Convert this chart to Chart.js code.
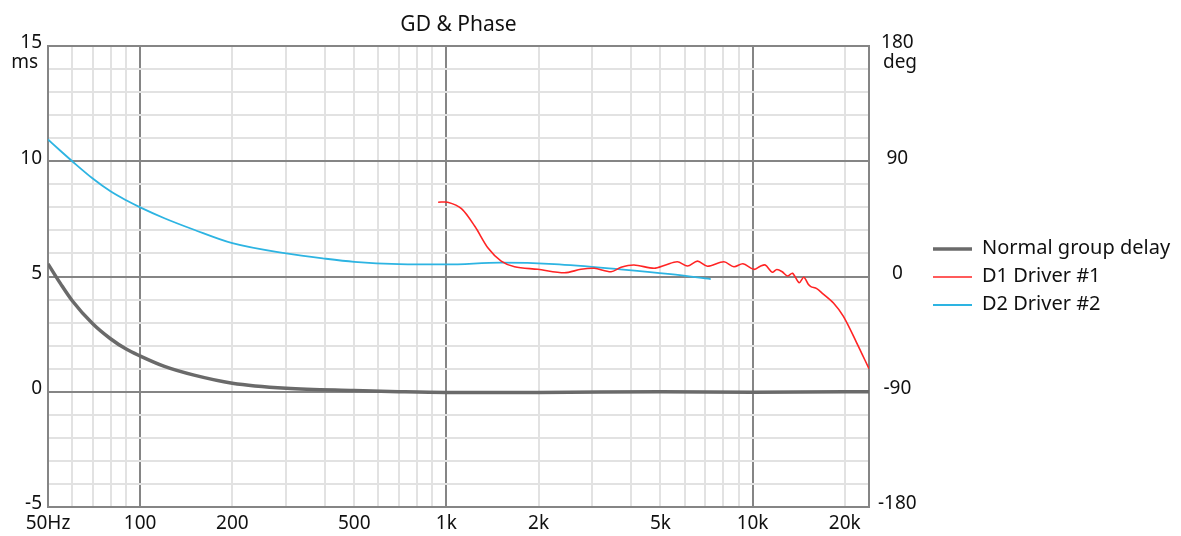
<!DOCTYPE html>
<html>
<head>
<meta charset="utf-8">
<title>GD & Phase</title>
<script src="https://cdn.jsdelivr.net/npm/chart.js@4"></script>
<style>
  html, body { margin: 0; padding: 0; background: #fff; }
  #wrap { width: 1181px; height: 536px; position: relative; }
</style>
</head>
<body>
<div id="wrap"><canvas id="gdChart"></canvas></div>
<script>
/* ================= DATA ================= */

// Normal group delay (ms, left axis)
const freqGray = [50, 55, 60, 70, 80, 90, 100, 120, 150, 200, 300, 500, 700, 1000, 2000, 5000, 10000, 20000, 24000];
const gdNormal = [5.55, 4.68, 3.95, 2.95, 2.3, 1.85, 1.55, 1.1, 0.72, 0.37, 0.15, 0.05, 0.0, -0.03, -0.03, 0.0, -0.02, 0.0, 0.0];

// D1 Driver #1 (deg, right axis)
const freqD1 = [940, 1010, 1120, 1240, 1370, 1510, 1670, 1990, 2430, 2750, 3040, 3450, 3720, 4100, 4770, 5200, 5680, 6130, 6610, 7120, 8060, 8690, 9300,
  10100, 10600, 11000, 11600, 12000, 12500, 13000, 13500, 14200, 14700, 15200, 15500, 16200, 16900, 18400, 19800, 21800, 24000];
const phaseD1 = [58, 58, 53, 39, 22, 12, 7.6, 5.6, 2.9, 5.6, 6.4, 3.7, 7.2, 9, 6.4, 9, 11.5, 8.2, 12, 8, 11.5, 7.6, 10,
  5.6, 8, 9, 3.3, 5.5, 3.7, 0.4, 2.5, -4.8, -0.6, -6, -7.9, -9.5, -13.1, -20.9, -31.2, -51, -72];

// D2 Driver #2 (deg, right axis)
const freqD2 = [50, 55, 60, 70, 80, 90, 100, 120, 150, 200, 300, 400, 500, 700, 1000, 1500, 2250, 3700, 5400, 7300];
const phaseD2 = [107, 98, 90, 76.5, 66.5, 59.5, 54, 45.5, 36.5, 26, 18, 14, 11.5, 9.7, 9.4, 10.8, 9.7, 5.6, 1.8, -2];

// axis ticks
const freqTicks = [50, 60, 70, 80, 90, 100, 200, 300, 400, 500, 600, 700, 800, 900,
  1000, 2000, 3000, 4000, 5000, 6000, 7000, 8000, 9000, 10000, 20000];
const freqLabels = { 50: "50Hz", 100: "100", 200: "200", 500: "500", 1000: "1k",
  2000: "2k", 5000: "5k", 10000: "10k", 20000: "20k" };
const msTicks = [-5, 0, 5, 10, 15];
const degTicks = [-180, -90, 0, 90, 180];

/* ================= HELPERS ================= */

const toPoints = (xs, ys) => xs.map((x, i) => ({ x: x, y: ys[i] }));

const MAJOR = "#858585";
const MINOR = "#e2e2e2";
const FONT = "Noto Sans";

Chart.defaults.font.family = FONT;
Chart.defaults.font.size = 19;
Chart.defaults.color = "#111";

/* ================= EXTRA DRAWING ================= */

const decorations = {
  id: "decorations",
  beforeDatasetsDraw(chart) {
    const { ctx, chartArea: a } = chart;
    ctx.save();
    ctx.strokeStyle = MAJOR;
    ctx.lineWidth = 2;
    ctx.strokeRect(a.left, a.top, a.right - a.left, a.bottom - a.top);
    ctx.restore();
  },
  afterDraw(chart) {
    const { ctx, chartArea: a } = chart;
    ctx.save();
    ctx.fillStyle = "#111";
    ctx.textBaseline = "middle";

    // title
    ctx.font = "21px '" + FONT + "'";
    ctx.textAlign = "center";
    ctx.fillText("GD & Phase", (a.left + a.right) / 2, 25);

    // units
    ctx.font = "19px '" + FONT + "'";
    ctx.textAlign = "right";
    ctx.fillText("ms", 38, 63);
    ctx.textAlign = "center";
    ctx.fillText("deg", 900, 63);

    // legend
    ctx.font = "20px '" + FONT + "'";
    ctx.textAlign = "left";
    chart.data.datasets.forEach((ds, i) => {
      const y = 249 + i * 28;
      ctx.strokeStyle = ds.borderColor;
      ctx.lineWidth = ds.borderWidth;
      ctx.beginPath();
      ctx.moveTo(933, y);
      ctx.lineTo(972, y);
      ctx.stroke();
      ctx.fillText(ds.label, 982, y - 1);
    });
    ctx.restore();
  }
};

/* ================= CHART ================= */

new Chart(document.getElementById("gdChart"), {
  type: "line",
  data: {
    datasets: [
      {
        label: "Normal group delay",
        data: toPoints(freqGray, gdNormal),
        yAxisID: "y",
        borderColor: "#6a6a6a",
        borderWidth: 3.5,
        pointRadius: 0,
        cubicInterpolationMode: "monotone"
      },
      {
        label: "D1 Driver #1",
        data: toPoints(freqD1, phaseD1),
        yAxisID: "y1",
        borderColor: "#ff2424",
        borderWidth: 1.6,
        pointRadius: 0,
        tension: 0.3
      },
      {
        label: "D2 Driver #2",
        data: toPoints(freqD2, phaseD2),
        yAxisID: "y1",
        borderColor: "#2db4e2",
        borderWidth: 1.8,
        pointRadius: 0,
        cubicInterpolationMode: "monotone"
      }
    ]
  },
  options: {
    responsive: true,
    maintainAspectRatio: false,
    animation: false,
    layout: { padding: { top: 46, left: 0, right: 0, bottom: 0 } },
    plugins: {
      legend: { display: false },
      title: { display: false },
      tooltip: { enabled: false }
    },
    scales: {
      x: {
        type: "logarithmic",
        min: 50,
        max: 24000,
        afterBuildTicks: s => { s.ticks = freqTicks.map(v => ({ value: v })); },
        afterFit: s => { s.height = 29; },
        border: { display: false },
        grid: {
          drawTicks: false,
          lineWidth: 2,
          color: c => [100, 1000, 10000].includes(c.tick.value) ? MAJOR : MINOR
        },
        ticks: {
          autoSkip: false,
          maxRotation: 0,
          padding: 5,
          callback: v => freqLabels[v] || ""
        }
      },
      y: {
        position: "left",
        min: -5,
        max: 15,
        afterFit: s => { s.width = 48; },
        border: { display: false },
        grid: {
          drawTicks: false,
          lineWidth: 2,
          color: c => msTicks.includes(c.tick.value) ? MAJOR : MINOR
        },
        ticks: {
          stepSize: 1,
          autoSkip: false,
          padding: 6,
          labelOffset: -3,
          callback: v => msTicks.includes(v) ? String(v) : ""
        }
      },
      y1: {
        position: "right",
        min: -180,
        max: 180,
        afterFit: s => { s.width = 312; },
        border: { display: false },
        grid: { display: false, drawTicks: false },
        ticks: {
          stepSize: 90,
          autoSkip: false,
          padding: 9,
          labelOffset: -3,
          crossAlign: "center",
          callback: v => degTicks.includes(v) ? String(v) : ""
        }
      }
    }
  },
  plugins: [decorations]
});
</script>
</body>
</html>
